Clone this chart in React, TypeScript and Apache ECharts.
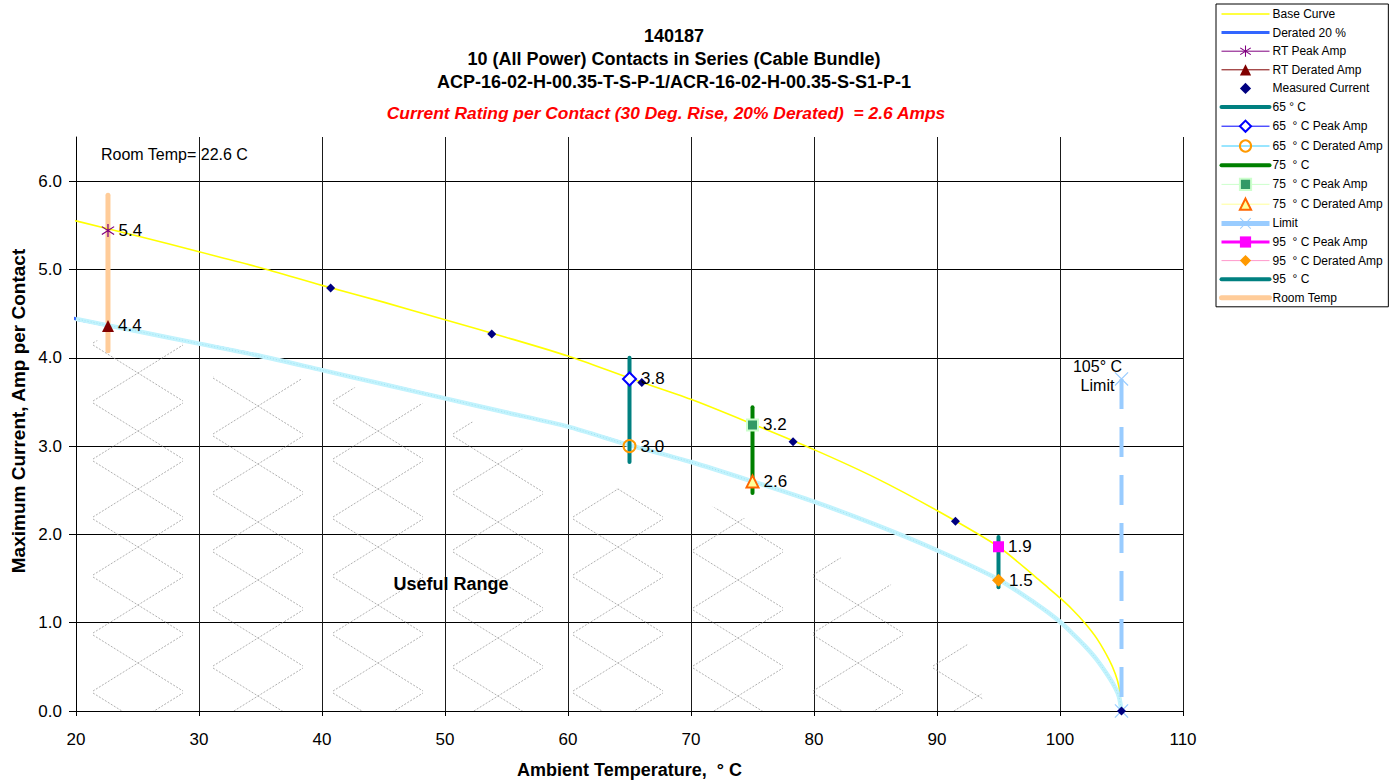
import React, { useEffect, useRef } from 'react';
import * as echarts from 'echarts';

const FONT = '"Liberation Sans", Arial, Helvetica, sans-serif';

// ---------- texts ----------
const titleLines = [
  '140187',
  '10 (All Power) Contacts in Series (Cable Bundle)',
  'ACP-16-02-H-00.35-T-S-P-1/ACR-16-02-H-00.35-S-S1-P-1',
];
const subtitle = 'Current Rating per Contact (30 Deg. Rise, 20% Derated)  = 2.6 Amps';
const xName = 'Ambient Temperature,  ° C';
const yName = 'Maximum Current, Amp per Contact';
const roomTempNote = 'Room Temp= 22.6 C';
const usefulRangeNote = 'Useful Range';
const limitNote = '105° C\nLimit';

// ---------- axes ----------
const xMin = 20, xMax = 110, xStep = 10;
const yMin = 0, yMax = 6.5, yStep = 1;

// ---------- curves ----------
const baseTemp = [19.3, 20, 25, 30, 35, 40, 45, 50, 55, 60, 65, 70, 75, 80, 85, 90, 95, 98, 99, 100, 101, 102, 103, 104, 104.5, 104.8, 105];
const baseAmp = [5.58, 5.55, 5.38, 5.2, 5.02, 4.82, 4.63, 4.43, 4.23, 4.02, 3.77, 3.53, 3.25, 2.96, 2.64, 2.27, 1.86, 1.52, 1.4, 1.28, 1.15, 1.0, 0.82, 0.58, 0.42, 0.27, 0];

const deratedTemp = [19.3, 20, 25, 30, 35, 40, 45, 50, 55, 60, 65, 70, 75, 80, 85, 90, 95, 98, 99, 100, 101, 102, 103, 104, 104.5, 104.8, 105];
const deratedAmp = [4.47, 4.44, 4.3, 4.16, 4.02, 3.86, 3.7, 3.54, 3.38, 3.22, 3.01, 2.82, 2.6, 2.37, 2.11, 1.82, 1.49, 1.22, 1.12, 1.01, 0.88, 0.74, 0.58, 0.38, 0.26, 0.16, 0];

const measuredTemp = [40.7, 53.8, 66.0, 78.3, 91.5, 105];
const measuredAmp = [4.79, 4.27, 3.72, 3.05, 2.15, 0];

// hatch ("useful range") upper boundary
const hatchTemp = [20.7, 25, 30, 30.1, 40, 50, 55, 60, 70, 80, 88, 92.5, 94];
const hatchTop = [4.2, 4.18, 4.16, 3.8, 3.75, 3.42, 3.1, 2.6, 2.4, 1.9, 1.3, 0.75, 0];

// ---------- reference points ----------
const roomTemp = 22.6;
const roomTempRange = [4.08, 5.84];
const rtPeak = 5.44;
const rtDerated = 4.36;

const t65 = 65, range65 = [2.82, 4.0], peak65 = 3.76, derated65 = 3.0;
const t75 = 75, range75 = [2.47, 3.44], peak75 = 3.24, derated75 = 2.6;
const t95 = 95, range95 = [1.4, 1.97], peak95 = 1.86, derated95 = 1.48;
const limitTemp = 105, limitRange = [3.76, 0];

const legendNames = [
  'Base Curve',
  'Derated 20 %',
  'RT Peak Amp',
  'RT Derated Amp',
  'Measured Current',
  '65 ° C',
  '65  ° C Peak Amp',
  '65  ° C Derated Amp',
  '75  ° C',
  '75  ° C Peak Amp',
  '75  ° C Derated Amp',
  'Limit',
  '95  ° C Peak Amp',
  '95  ° C Derated Amp',
  '95  ° C',
  'Room Temp',
];
const lineOnlyLegend = ['Base Curve', 'Derated 20 %', '65 ° C', '75  ° C', '95  ° C', 'Room Temp'];

const ASTERISK =
  'path://M9.2,0 L10.8,0 L10.8,20 L9.2,20 Z M2.48,3.36 L18.48,15.36 L17.52,16.64 L1.52,4.64 Z M1.52,15.36 L17.52,3.36 L18.48,4.64 L2.48,16.64 Z';
const XMARK = 'path://M0,1.2 L1.2,0 L20,18.8 L18.8,20 Z M18.8,0 L20,1.2 L1.2,20 L0,18.8 Z';

function zip(xs: number[], ys: number[]) {
  return xs.map((x, i) => [x, ys[i]]);
}

function hatchTileUrl() {
  const w = 240, h = 116;
  const ax = 45, ay = 28;
  const centers = [
    [138, 25], [138, 83], [138, 141],
    [18, 0], [18, 58], [18, 116],
    [258, 0], [258, 58], [258, 116],
  ];
  let lines = '';
  centers.forEach(([cx, cy]) => {
    lines += `<line x1="${cx - ax}" y1="${cy - ay}" x2="${cx + ax}" y2="${cy + ay}"/>`;
    lines += `<line x1="${cx - ax}" y1="${cy + ay}" x2="${cx + ax}" y2="${cy - ay}"/>`;
  });
  const svg = `<svg xmlns="http://www.w3.org/2000/svg" width="${w}" height="${h}"><g stroke="#9a9a9a" stroke-width="0.8" stroke-dasharray="2,1.5" fill="none">${lines}</g></svg>`;
  return { url: 'data:image/svg+xml;charset=utf-8,' + encodeURIComponent(svg), w, h };
}

const labelStyle = {
  show: true,
  position: 'right' as const,
  distance: 4,
  fontSize: 17,
  color: '#000',
  fontFamily: FONT,
  formatter: (p: any) => Number(p.value[1]).toFixed(1),
};

function pointSeries(
  name: string,
  x: number,
  y: number,
  symbol: string,
  symbolSize: number,
  itemStyle: any,
  lineColor: string,
  lineWidth: number,
) {
  return {
    name,
    type: 'line',
    data: [[x, y]],
    symbol,
    symbolSize,
    showSymbol: true,
    itemStyle,
    lineStyle: { color: lineColor, width: lineWidth },
    label: labelStyle,
    z: 5,
  };
}

function barSeries(name: string, x: number, range: number[], color: string, width: number) {
  return {
    name,
    type: 'line',
    data: [[x, range[0]], [x, range[1]]],
    symbol: 'none',
    lineStyle: { color, width, cap: 'round' },
    itemStyle: { color },
    z: 3,
  };
}

export default function App() {
  const ref = useRef<HTMLDivElement>(null);

  useEffect(() => {
    document.body.style.margin = '0';
    if (!ref.current) return;
    const chart = echarts.init(ref.current, null, { renderer: 'svg' });
    const tile = hatchTileUrl();

    const legendData = legendNames.map((n) => {
      const item: any = { name: n };
      if (lineOnlyLegend.includes(n)) item.itemStyle = { opacity: 0 };
      if (n === 'Limit') item.lineStyle = { type: 'solid', width: 5 };
      return item;
    });

    const option: any = {
      animation: false,
      backgroundColor: '#fff',
      textStyle: { fontFamily: FONT },
      grid: { left: 76, right: 215, top: 137, bottom: 69, containLabel: false, outerBoundsMode: 'none' },
      legend: {
        data: legendData,
        orient: 'vertical',
        left: 1216,
        top: 4,
        padding: [4, 5, 3, 3],
        itemWidth: 48,
        itemHeight: 14,
        itemGap: 6.6,
        borderColor: '#000',
        borderWidth: 1,
        selectedMode: false,
        lineStyle: { width: 'inherit' },
        textStyle: { fontSize: 12, color: '#000', fontFamily: FONT, padding: [0, 0, 0, -2] },
      },
      graphic: [
        ...titleLines.map((t, i) => ({
          type: 'text',
          x: 674,
          y: 36 + i * 23,
          style: {
            text: t,
            fontSize: 18,
            fontWeight: 'bold',
            fontFamily: FONT,
            fill: '#000',
            textAlign: 'center',
            textVerticalAlign: 'middle',
          },
        })),
        {
          type: 'text',
          x: 666,
          y: 113,
          style: {
            text: subtitle,
            fontSize: 17.4,
            fontWeight: 'bold',
            fontStyle: 'italic',
            fontFamily: FONT,
            fill: '#ff0000',
            textAlign: 'center',
            textVerticalAlign: 'middle',
          },
        },
        {
          type: 'text',
          x: 101,
          y: 154,
          style: {
            text: roomTempNote,
            fontSize: 16,
            fontFamily: FONT,
            fill: '#000',
            textAlign: 'left',
            textVerticalAlign: 'middle',
          },
          z: 10,
        },
        {
          type: 'text',
          x: 451,
          y: 584,
          style: {
            text: usefulRangeNote,
            fontSize: 18,
            fontWeight: 'bold',
            fontFamily: FONT,
            fill: '#000',
            textAlign: 'center',
            textVerticalAlign: 'middle',
          },
          z: 10,
        },
        {
          type: 'text',
          x: 18,
          y: 411,
          rotation: Math.PI / 2,
          style: {
            text: yName,
            fontSize: 19,
            fontWeight: 'bold',
            fontFamily: FONT,
            fill: '#000',
            textAlign: 'center',
            textVerticalAlign: 'middle',
          },
        },
      ],
      xAxis: {
        type: 'value',
        min: xMin,
        max: xMax,
        interval: xStep,
        name: xName,
        nameLocation: 'middle',
        nameGap: 50,
        nameTextStyle: { fontSize: 18, fontWeight: 'bold', color: '#000', fontFamily: FONT },
        axisLine: { show: true, lineStyle: { color: '#000', width: 1 } },
        axisTick: { show: true, length: 5, lineStyle: { color: '#000' } },
        axisLabel: { fontSize: 17, color: '#000', margin: 20, fontFamily: FONT },
        splitLine: { show: true, lineStyle: { color: '#1a1a1a', width: 1 } },
      },
      yAxis: {
        type: 'value',
        min: yMin,
        max: yMax,
        interval: yStep,
        axisLine: { show: true, lineStyle: { color: '#000', width: 1 } },
        axisTick: { show: true, length: 7, lineStyle: { color: '#000' } },
        axisLabel: {
          fontSize: 17,
          color: '#000',
          margin: 14,
          fontFamily: FONT,
          showMaxLabel: false,
          formatter: (v: number) => (v > 6.01 ? '' : v.toFixed(1)),
        },
        splitLine: { show: true, showMaxLine: false, lineStyle: { color: '#000', width: 1 } },
      },
      series: [
        {
          name: 'hatch',
          type: 'line',
          data: zip(hatchTemp, hatchTop),
          symbol: 'none',
          lineStyle: { width: 0, opacity: 0 },
          areaStyle: {
            color: { image: tile.url, repeat: 'repeat', imageWidth: tile.w, imageHeight: tile.h },
            opacity: 1,
          },
          silent: true,
          z: 1,
        },
        barSeries('Room Temp', roomTemp, roomTempRange, '#ffcc99', 5),
        {
          name: 'Base Curve',
          type: 'line',
          data: zip(baseTemp, baseAmp),
          symbol: 'none',
          smooth: 0.25,
          clip: false,
          lineStyle: { color: '#ffff00', width: 1.6 },
          itemStyle: { color: '#ffff00' },
          z: 3,
        },
        {
          name: 'Derated 20 %',
          type: 'line',
          data: zip(deratedTemp, deratedAmp),
          symbol: 'none',
          smooth: 0.25,
          clip: false,
          lineStyle: { color: '#3366ff', width: 3 },
          itemStyle: { color: '#3366ff' },
          z: 3,
        },
        {
          name: 'derated band',
          type: 'line',
          data: zip(deratedTemp, deratedAmp).filter((d) => d[0] >= 20),
          symbol: 'none',
          smooth: 0.25,
          lineStyle: { color: '#c2f3fd', width: 4.5 },
          z: 3,
        },
        {
          name: 'derated band core',
          type: 'line',
          data: zip(deratedTemp, deratedAmp).filter((d) => d[0] >= 20),
          symbol: 'none',
          smooth: 0.25,
          lineStyle: { color: '#9fe2f3', width: 1, type: [1, 2] },
          z: 3,
        },
        barSeries('65 ° C', t65, range65, '#008080', 4),
        barSeries('75  ° C', t75, range75, '#008000', 4),
        barSeries('95  ° C', t95, range95, '#008080', 4),
        {
          name: 'Limit',
          type: 'line',
          data: [
            {
              value: [limitTemp, limitRange[0]],
              label: {
                show: true,
                position: 'inside',
                offset: [-24, -3],
                formatter: limitNote,
                fontSize: 16,
                lineHeight: 19,
                align: 'center',
                color: '#000',
                fontFamily: FONT,
              },
            },
            [limitTemp, limitRange[1]],
          ],
          symbol: XMARK,
          symbolSize: 14,
          showSymbol: true,
          lineStyle: { color: '#99ccff', width: 4, type: [30, 18] },
          itemStyle: { color: '#99ccff' },
          z: 4,
        },
        {
          name: 'Measured Current',
          type: 'line',
          data: zip(measuredTemp, measuredAmp),
          symbol: 'diamond',
          symbolSize: 9,
          showSymbol: true,
          lineStyle: { width: 0, opacity: 0 },
          itemStyle: { color: '#000080', opacity: 1 },
          z: 4,
        },
        pointSeries('RT Peak Amp', roomTemp, rtPeak, ASTERISK, 13, { color: '#800080' }, '#800080', 1),
        pointSeries('RT Derated Amp', roomTemp, rtDerated, 'triangle', 12, { color: '#800000' }, '#800000', 1),
        pointSeries(
          '65  ° C Peak Amp',
          t65,
          peak65,
          'diamond',
          13,
          { color: '#ffffff', borderColor: '#0000ff', borderWidth: 2 },
          '#0000ff',
          1,
        ),
        pointSeries(
          '65  ° C Derated Amp',
          t65,
          derated65,
          'circle',
          12,
          { color: 'rgba(255,255,255,0)', borderColor: '#ff9900', borderWidth: 2 },
          '#33ccff',
          1,
        ),
        pointSeries(
          '75  ° C Peak Amp',
          t75,
          peak75,
          'rect',
          11,
          { color: '#339966', borderColor: '#ccffcc', borderWidth: 2 },
          '#ccffcc',
          1,
        ),
        pointSeries(
          '75  ° C Derated Amp',
          t75,
          derated75,
          'triangle',
          12,
          { color: '#ffff99', borderColor: '#ff6600', borderWidth: 2 },
          '#ffff99',
          1,
        ),
        pointSeries('95  ° C Peak Amp', t95, peak95, 'rect', 11, { color: '#ff00ff' }, '#ff00ff', 3),
        pointSeries('95  ° C Derated Amp', t95, derated95, 'diamond', 13, { color: '#ff9900' }, '#ff99cc', 1),
      ],
    };

    chart.setOption(option);
    return () => chart.dispose();
  }, []);

  return <div ref={ref} style={{ width: 1398, height: 780 }} />;
}
